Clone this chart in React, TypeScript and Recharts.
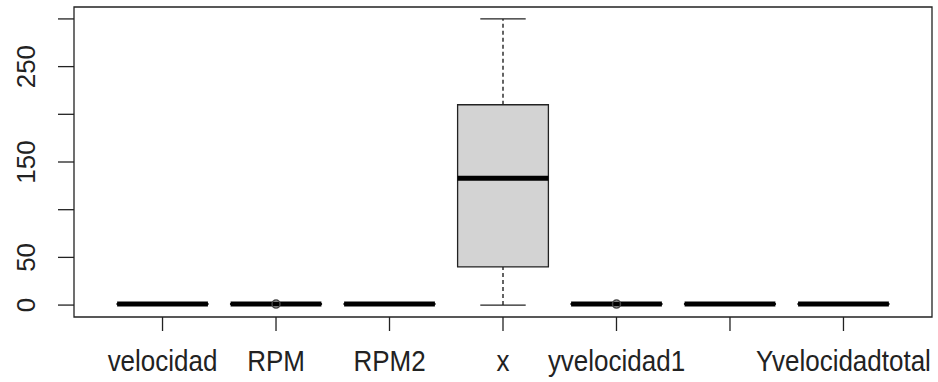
import React from 'react';
import { ComposedChart, XAxis, YAxis, ReferenceArea, ReferenceLine, Scatter } from 'recharts';

// one box per variable, positions 1..7 (label 6 is dropped by R for overlap)
const categories = ['velocidad', 'RPM', 'RPM2', 'x', 'yvelocidad1', '', 'Yvelocidadtotal'];
const positions = [1, 2, 3, 4, 5, 6, 7];
const whiskerLow = [0.2, 0.2, 0.2, 0, 0.2, 0.2, 0.2];
const q1 = [0.7, 0.7, 0.7, 40, 0.7, 0.7, 0.7];
const median = [1, 1, 1, 133, 1, 1, 1];
const q3 = [1.4, 1.4, 1.4, 210, 1.4, 1.4, 1.4];
const whiskerHigh = [2.1, 2.1, 2.1, 300, 2.1, 2.1, 2.1];
const outlierPos = [2, 5];
const outlierVal = [1, 1];
const yTicks = [0, 50, 100, 150, 200, 250, 300];
const yLabels = [0, 50, 150, 250];

const rows = positions.map((p, i) => ({ pos: p, name: categories[i] }));
const outliers = outlierPos.map((p, i) => ({ pos: p, val: outlierVal[i] }));

const INK = '#222';
const FONT = '"Liberation Sans", Arial, sans-serif';
const HALF = 0.4;

const XTick = (props: any) => {
  const { x, payload } = props;
  const label = categories[payload.value - 1];
  return (
    <text
      transform={`translate(${x}, 371) scale(1, 1.15)`}
      textAnchor="middle"
      fontSize={26}
      fontFamily={FONT}
      fill={INK}
    >
      {label}
    </text>
  );
};

const YTick = (props: any) => {
  const { y, payload } = props;
  if (!yLabels.includes(payload.value)) return <g />;
  return (
    <text
      transform={`translate(35, ${y}) rotate(-90)`}
      textAnchor="middle"
      fontSize={26}
      fontFamily={FONT}
      fill={INK}
    >
      {payload.value}
    </text>
  );
};

const Outlier = (props: any) => (
  <circle cx={props.cx} cy={props.cy} r={4} fill="none" stroke="#444" strokeWidth={1.5} />
);

export default function App() {
  return (
    <div style={{ width: 938, height: 382, background: '#fff' }}>
      <style>{'body{margin:0}'}</style>
      <ComposedChart
        width={938}
        height={382}
        data={rows}
        margin={{ top: 7, right: 6, bottom: 0, left: 0 }}
      >
        <XAxis
          type="number"
          dataKey="pos"
          domain={[0.22, 7.78]}
          ticks={positions}
          allowDataOverflow
          height={65}
          tickSize={14}
          axisLine={false}
          tickLine={{ stroke: INK, strokeWidth: 1.3 }}
          tick={<XTick />}
          interval={0}
        />
        <YAxis
          type="number"
          domain={[-12.5, 312.5]}
          ticks={yTicks}
          allowDataOverflow
          width={74}
          tickSize={16}
          axisLine={false}
          tickLine={{ stroke: INK, strokeWidth: 1.3 }}
          tick={<YTick />}
          interval={0}
        />
        {positions.map((p, i) => (
          <ReferenceLine
            key={`wl${p}`}
            segment={[{ x: p, y: whiskerLow[i] }, { x: p, y: q1[i] }]}
            stroke={INK}
            strokeWidth={1.4}
            strokeDasharray="4 3"
            ifOverflow="visible"
          />
        ))}
        {positions.map((p, i) => (
          <ReferenceLine
            key={`wh${p}`}
            segment={[{ x: p, y: q3[i] }, { x: p, y: whiskerHigh[i] }]}
            stroke={INK}
            strokeWidth={1.4}
            strokeDasharray="4 3"
            ifOverflow="visible"
          />
        ))}
        {positions.map((p, i) => (
          <ReferenceLine
            key={`cl${p}`}
            segment={[{ x: p - HALF / 2, y: whiskerLow[i] }, { x: p + HALF / 2, y: whiskerLow[i] }]}
            stroke={INK}
            strokeWidth={1.3}
            ifOverflow="visible"
          />
        ))}
        {positions.map((p, i) => (
          <ReferenceLine
            key={`ch${p}`}
            segment={[{ x: p - HALF / 2, y: whiskerHigh[i] }, { x: p + HALF / 2, y: whiskerHigh[i] }]}
            stroke={INK}
            strokeWidth={1.3}
            ifOverflow="visible"
          />
        ))}
        {positions.map((p, i) => (
          <ReferenceArea
            key={`b${p}`}
            x1={p - HALF}
            x2={p + HALF}
            y1={q1[i]}
            y2={q3[i]}
            fill="#d3d3d3"
            fillOpacity={1}
            stroke={INK}
            strokeWidth={1.3}
            ifOverflow="visible"
          />
        ))}
        {positions.map((p, i) => (
          <ReferenceLine
            key={`m${p}`}
            segment={[{ x: p - HALF, y: median[i] }, { x: p + HALF, y: median[i] }]}
            stroke="#000"
            strokeWidth={5}
            strokeLinecap="butt"
            ifOverflow="visible"
          />
        ))}
        <Scatter data={outliers} dataKey="val" shape={<Outlier />} isAnimationActive={false} />
        <ReferenceArea
          x1={0.22}
          x2={7.78}
          y1={-12.5}
          y2={312.5}
          fill="none"
          stroke={INK}
          strokeWidth={1.3}
          ifOverflow="visible"
        />
      </ComposedChart>
    </div>
  );
}
